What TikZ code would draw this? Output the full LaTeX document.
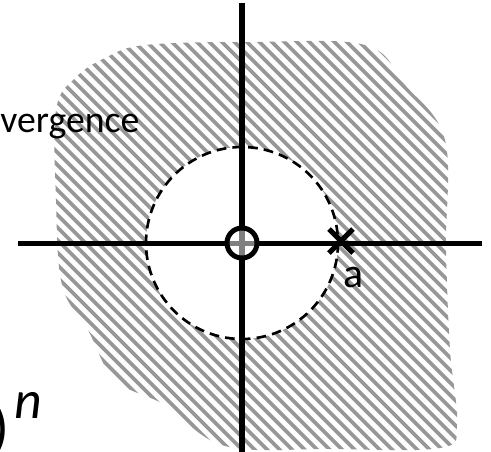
\documentclass[tikz,border=0pt]{standalone}
\usepackage{fontspec}
\setmainfont{Carlito}
\usetikzlibrary{calc}
\definecolor{hatchgray}{HTML}{979797}
\tikzset{
  axis line/.style={line width=2.85pt},
  hatch line/.style={draw=hatchgray, line width=2.1pt},
  disc line/.style={line width=1.5pt, dash pattern=on 5.5pt off 3.5pt},
  label text/.style={inner sep=0pt, font=\fontsize{21.5}{26}\selectfont}
}

\begin{document}
\begin{tikzpicture}[x=0.02cm, y=-0.02cm]
				\useasboundingbox (0,0) rectangle (491,451);
				\clip (0,0) rectangle (491,451);
				\coordinate (O) at (242,243);
				\coordinate (A) at (341,241);
				% hatched region outside the disc
				\begin{scope}
					\clip plot[smooth cycle, tension=0.6] coordinates {
						(56,110) (75,78) (105,58) (145,45) (250,42) (365,45) (405,85)
						(445,140) (446,250) (450,350) (457,425) (440,448) (330,449)
						(225,446) (165,405) (115,380) (88,330) (62,285) (56,200)};
					\foreach \c in {-420,-407.5,...,440}
						\draw[hatch line] (\c-10,-10) -- (\c+470,470);
				\end{scope}
				\fill[white] (O) circle (96);
				\draw[disc line] (O) circle (96);
				\node[label text, anchor=base west] (conv) at (0,132) {vergence};
				% axes
				\coordinate (xl) at (18,243);
				\coordinate (xr) at (482,243);
				\coordinate (yt) at (242,3);
				\coordinate (yb) at (242,455);
				\draw[axis line] (xl) -- (xr);
				\draw[axis line] (yt) -- (yb);
				\fill[white, fill opacity=0.5] (O) circle (15);
				\draw[line width=2.85pt] (O) circle (15);
				\draw[axis line] ($(A)+(-12,-12)$) -- ($(A)+(12,12)$);
				\draw[axis line] ($(A)+(-12,12)$) -- ($(A)+(12,-12)$);
				\node[label text, font=\fontsize{23.8}{28}\selectfont, anchor=base west] (a) at (343,287) {a};
				% formula cut off at the edge
				\node[inner sep=0pt, anchor=base east, font=\fontsize{34}{40}\selectfont] (paren) at (10,447) {)};
				\node[inner sep=0pt, anchor=base west, font=\fontsize{30.6}{36}\selectfont\itshape] (pow) at (14,418) {n};
			\end{tikzpicture}
\end{document}
